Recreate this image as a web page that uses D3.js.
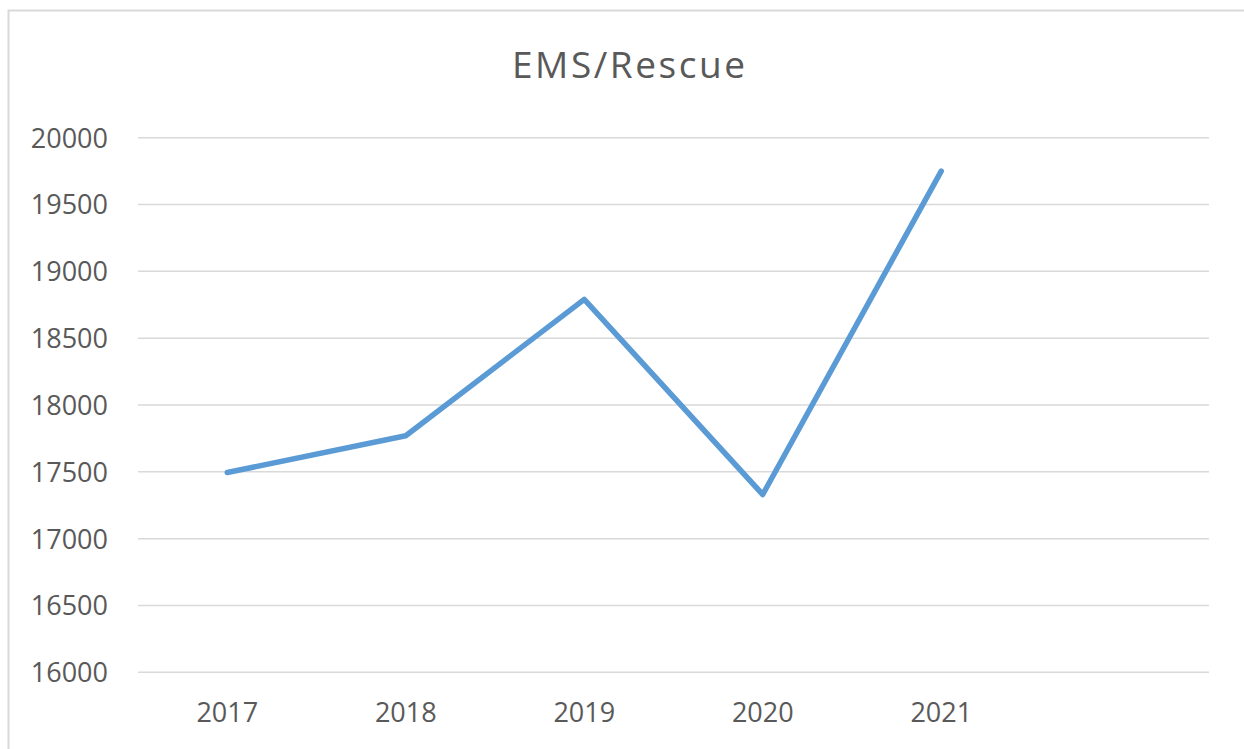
<!DOCTYPE html>
<html><head><meta charset="utf-8">
<script src="https://cdn.jsdelivr.net/npm/d3@7"></script>
<style>body{margin:0;background:#fff;} svg{display:block;}</style>
</head><body>
<svg id="c" width="1244" height="749"></svg>
<script>
const categories = ["2017","2018","2019","2020","2021",""];
const values = [17495, 17770, 18790, 17330, 19750];
const yTicks = [16000,16500,17000,17500,18000,18500,19000,19500,20000];
const title = "EMS/Rescue";

const svg = d3.select("#c");
const W = 1244, H = 749;
const m = {left:138, right:1209, top:137.7, bottom:672.3};

svg.append("rect").attr("x",8.5).attr("y",10.5).attr("width",1250).attr("height",760)
  .attr("fill","#fff").attr("stroke","#d9d9d9").attr("stroke-width",2);

const x = d3.scaleBand().domain(categories).range([m.left, m.right]);
const y = d3.scaleLinear().domain([16000,20000]).range([m.bottom, m.top]);

const font = "'Open Sans', sans-serif";
const g = svg.append("g");
g.selectAll("line.grid").data(yTicks).join("line").attr("class","grid")
  .attr("x1",m.left).attr("x2",m.right)
  .attr("y1",d=>y(d)).attr("y2",d=>y(d))
  .attr("stroke","#d9d9d9").attr("stroke-width",1.5);

const yAxis = d3.axisLeft(y).tickValues(yTicks).tickSize(0).tickPadding(30).tickFormat(d3.format("d"));
const ya = svg.append("g").attr("transform",`translate(${m.left},0)`).call(yAxis);
ya.select(".domain").remove();
ya.selectAll("text").attr("font-family",font).attr("font-size",27).attr("fill","#595959").attr("dy","0.35em");

const xAxis = d3.axisBottom(x).tickSize(0).tickPadding(0);
const xa = svg.append("g").attr("transform",`translate(0,${m.bottom})`).call(xAxis);
xa.select(".domain").remove();
xa.selectAll("text").attr("font-family",font).attr("font-size",27).attr("fill","#595959").attr("dy",null).attr("y",50);

const line = d3.line().x((d,i)=>x(categories[i])+x.bandwidth()/2).y(d=>y(d));
svg.append("path").datum(values).attr("d",line).attr("fill","none")
  .attr("stroke","#5B9BD5").attr("stroke-width",5.5).attr("stroke-linejoin","round").attr("stroke-linecap","round");

svg.append("text").attr("x",628.5).attr("y",78).attr("text-anchor","middle")
  .attr("font-family",font).attr("font-size",37)
  .attr("textLength",233).attr("lengthAdjust","spacing")
  .attr("fill","#595959").text(title);
</script>
</body></html>
